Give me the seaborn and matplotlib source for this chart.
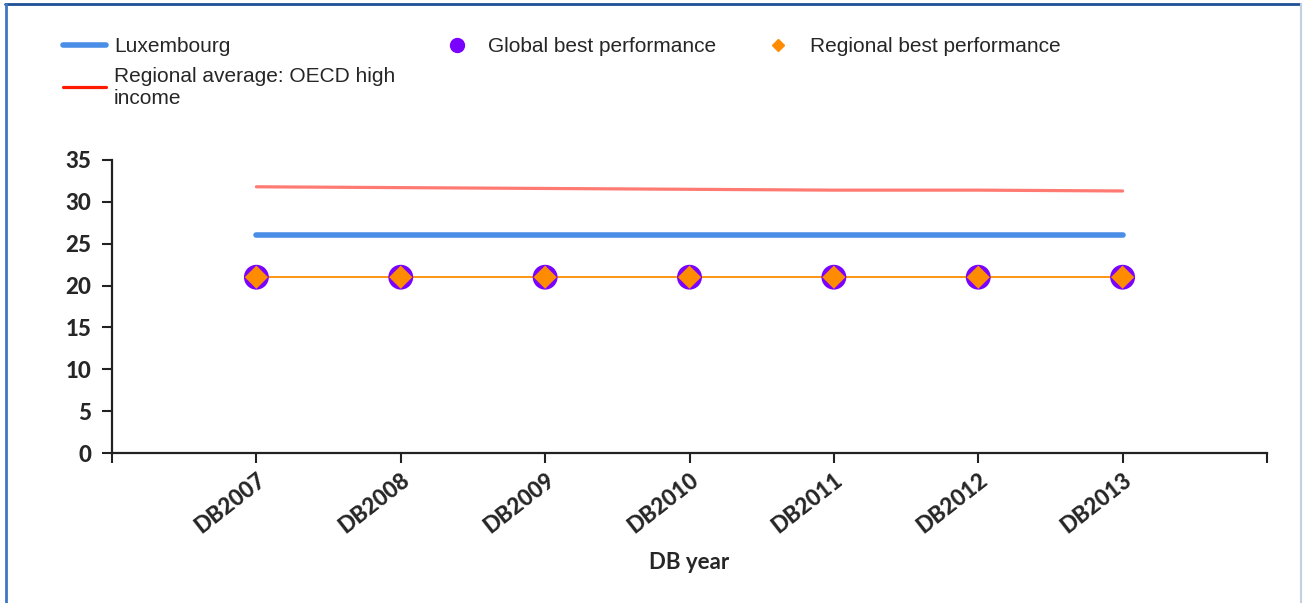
import matplotlib
matplotlib.use("Agg")
import matplotlib.pyplot as plt
import seaborn as sns
import pandas as pd
from matplotlib.lines import Line2D

years = ["DB2007", "DB2008", "DB2009", "DB2010", "DB2011", "DB2012", "DB2013"]
luxembourg = [26, 26, 26, 26, 26, 26, 26]
regional_avg = [31.8, 31.7, 31.6, 31.5, 31.4, 31.4, 31.3]
global_best = [21, 21, 21, 21, 21, 21, 21]
regional_best = [21, 21, 21, 21, 21, 21, 21]
y_ticks = [0, 5, 10, 15, 20, 25, 30, 35]

sns.set_theme(style="white")
plt.rcParams['font.family'] = ['Liberation Sans', 'DejaVu Sans']

df = pd.DataFrame({
    "idx": list(range(len(years))),
    "year": years,
    "lux": luxembourg,
    "ravg": regional_avg,
    "gbest": global_best,
    "rbest": regional_best,
})

fig = plt.figure(figsize=(13.04, 6.03), dpi=100)
ax = fig.add_axes([112/1304, 1-453/603, (1267-112)/1304, (453-160)/603])

sns.lineplot(data=df, x="idx", y="ravg", ax=ax, color="#ff7a72", linewidth=2.3, zorder=2)
sns.lineplot(data=df, x="idx", y="lux", ax=ax, color="#4a8fe7", linewidth=4.0, zorder=3)
sns.lineplot(data=df, x="idx", y="rbest", ax=ax, color="#ff8c00", linewidth=1.3, zorder=3)
sns.scatterplot(data=df, x="idx", y="gbest", ax=ax, color="#7a00ff", s=320, marker="o",
                edgecolor="none", zorder=4)
sns.scatterplot(data=df, x="idx", y="rbest", ax=ax, color="#ff8c00", s=140, marker="D",
                edgecolor="none", zorder=5)

bold_font = ["Lato", "DejaVu Sans"]
ax.set_xlim(-1, 7)
ax.set_ylim(0, 35)
ax.set_xticks(list(range(len(years))))
ax.set_xticks([-1, 7], minor=True)
ax.set_xticklabels(years, rotation=38, ha="right", rotation_mode="anchor",
                   fontsize=16, fontweight="black", family=bold_font)
ax.set_yticks(y_ticks)
ax.set_yticklabels([str(v) for v in y_ticks], fontsize=16, fontweight="black",
                   family=bold_font)
ax.tick_params(axis="both", which="both", direction="out", length=7, width=1.5, color="#222222")
ax.tick_params(axis="x", which="major", pad=5)
ax.tick_params(axis="y", which="major", pad=8)
ax.xaxis.set_ticks_position("bottom")
ax.yaxis.set_ticks_position("left")
for s in ["top", "right"]:
    ax.spines[s].set_visible(False)
for s in ["left", "bottom"]:
    ax.spines[s].set_color("#222222")
    ax.spines[s].set_linewidth(1.6)
ax.set_xlabel("DB year", fontsize=16, fontweight="bold", family=bold_font, labelpad=10)
ax.set_ylabel("")
ax.grid(False)

# legends
h1 = [Line2D([], [], color="#4a8fe7", lw=4.0),
      Line2D([], [], color="#ff1a00", lw=2.3)]
fig.legend(h1, ["Luxembourg", "Regional average: OECD high\nincome"],
           loc="upper left", bbox_to_anchor=(54.5/1304, 1-29/603), frameon=False,
           fontsize=15, handlelength=2.07, handletextpad=0.38, labelspacing=0.5,
           borderaxespad=0)
h2 = [Line2D([], [], color="#7a00ff", marker="o", ls="none", markersize=10)]
fig.legend(h2, ["Global best performance"], loc="upper left",
           bbox_to_anchor=(428/1304, 1-29/603), frameon=False, fontsize=15,
           handletextpad=0.5, borderaxespad=0)
h3 = [Line2D([], [], color="#ff8c00", marker="D", ls="none", markersize=6.5)]
fig.legend(h3, ["Regional best performance"], loc="upper left",
           bbox_to_anchor=(749/1304, 1-29/603), frameon=False, fontsize=15,
           handletextpad=0.55, borderaxespad=0)

# frame lines
fig.add_artist(Line2D([5/1304, 1300/1304], [1-3.5/603, 1-3.5/603], transform=fig.transFigure,
                      color="#1f4f96", lw=2.0))
fig.add_artist(Line2D([6/1304, 6/1304], [0, 1-3.5/603], transform=fig.transFigure,
                      color="#3f77c2", lw=2.0))
fig.add_artist(Line2D([1300.5/1304, 1300.5/1304], [0, 1-4/603], transform=fig.transFigure,
                      color="#c3d0e0", lw=1.5))

fig.savefig("out.png", dpi=100)
